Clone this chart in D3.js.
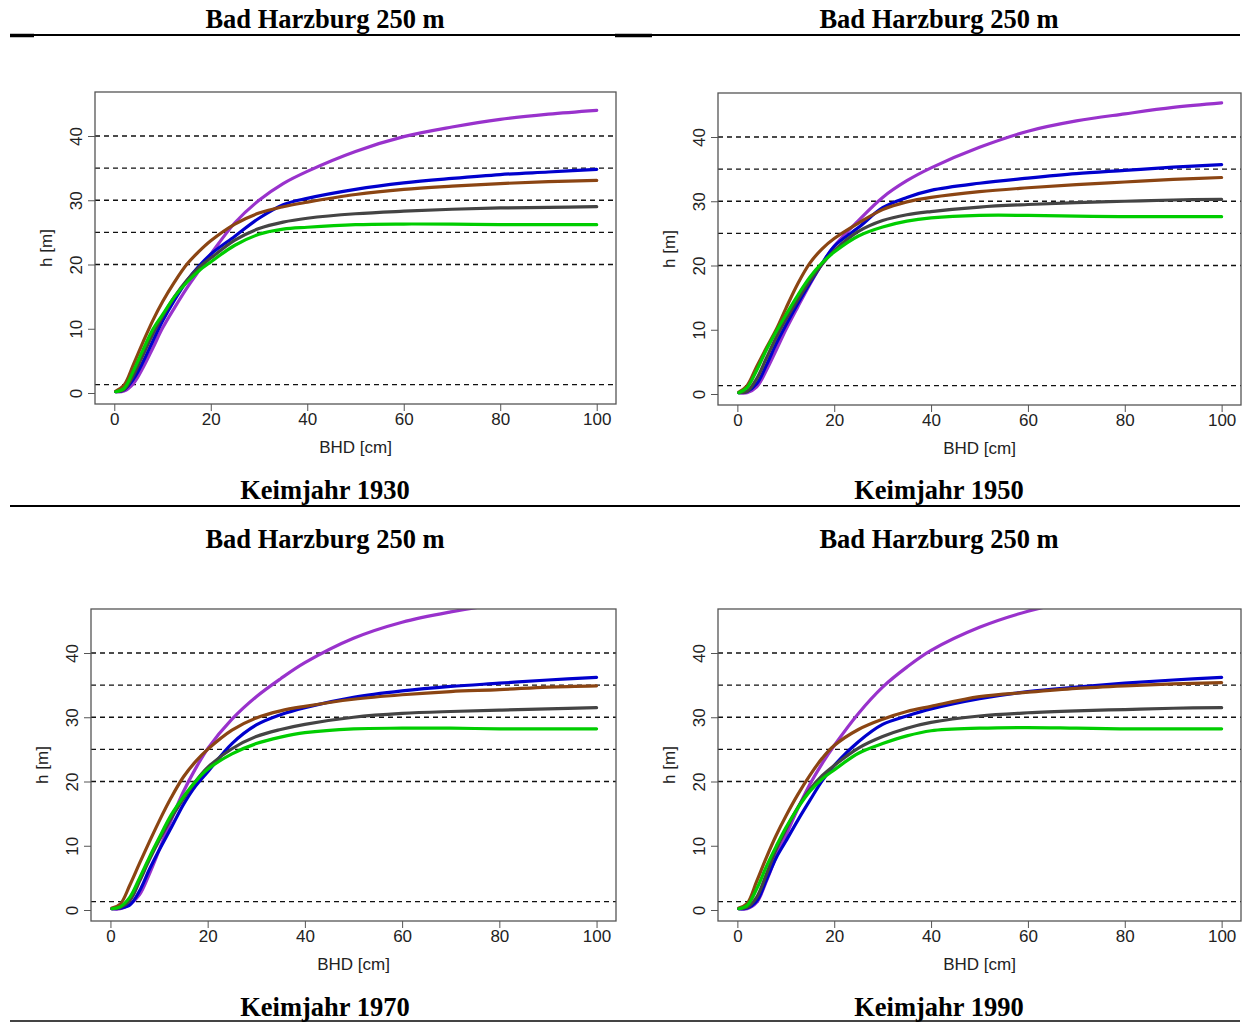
<!DOCTYPE html>
<html><head><meta charset="utf-8">
<script src="https://cdn.jsdelivr.net/npm/d3@7"></script>
<style>body{margin:0;background:#fff}svg{display:block}</style>
</head><body>
<svg id="chart" width="1247" height="1023"></svg>
<script>
// ---- data ----
const bhd = [0.3, 2, 4, 6, 8, 10, 12.5, 15, 17.5, 20, 25, 30, 35, 40, 50, 60, 70, 80, 90, 100];
const xTicks = [0, 20, 40, 60, 80, 100];
const yTicks = [0, 10, 20, 30, 40];
const refLines = [1.3, 20, 25, 30, 35, 40];
const seriesNames = ["purple", "blue", "brown", "gray", "green"];
const seriesColors = ["#9932CC", "#0000CD", "#8B4513", "#444444", "#00CD00"];
const keimjahre = [1930, 1950, 1970, 1990];
const siteTitle = "Bad Harzburg 250 m";

const purple1930 = [0.2, 0.3, 1.5, 4.0, 7.0, 10.1, 13.3, 16.3, 19.0, 21.6, 26.5, 30.0, 32.6, 34.5, 37.6, 39.9, 41.4, 42.6, 43.4, 44.0];
const blue1930   = [0.2, 0.5, 2.2, 4.9, 8.1, 11.2, 14.5, 17.4, 19.7, 21.6, 24.4, 27.2, 29.3, 30.3, 31.7, 32.7, 33.4, 34.0, 34.4, 34.8];
const brown1930  = [0.3, 1.2, 4.5, 8.0, 11.3, 14.2, 17.3, 20.0, 22.0, 23.7, 26.3, 28.0, 29.0, 29.7, 30.9, 31.7, 32.2, 32.6, 32.9, 33.1];
const gray1930   = [0.2, 0.5, 2.8, 6.0, 9.2, 11.9, 15.0, 17.5, 19.5, 21.0, 23.8, 25.6, 26.6, 27.2, 27.9, 28.3, 28.6, 28.8, 28.9, 29.0];
const green1930  = [0.2, 0.7, 3.5, 6.8, 9.9, 12.2, 15.0, 17.2, 19.0, 20.4, 23.0, 24.7, 25.5, 25.8, 26.2, 26.3, 26.3, 26.2, 26.2, 26.2];

const purple1950 = [0.2, 0.2, 1.1, 3.7, 6.8, 10.0, 13.6, 17.1, 20.3, 23.0, 27.0, 30.6, 33.2, 35.2, 38.4, 40.9, 42.5, 43.6, 44.6, 45.3];
const blue1950   = [0.2, 0.4, 1.6, 4.5, 7.8, 10.7, 14.1, 17.3, 20.3, 23.0, 25.9, 29.0, 30.6, 31.7, 32.8, 33.6, 34.3, 34.8, 35.3, 35.7];
const brown1950  = [0.3, 1.3, 4.3, 7.2, 10.0, 13.3, 17.2, 20.4, 22.6, 24.2, 26.6, 28.7, 29.9, 30.6, 31.5, 32.1, 32.6, 33.0, 33.4, 33.7];
const gray1950   = [0.2, 0.4, 2.4, 5.6, 8.8, 11.6, 14.7, 17.6, 20.2, 22.3, 25.3, 27.0, 27.9, 28.4, 29.1, 29.5, 29.8, 30.0, 30.2, 30.3];
const green1950  = [0.2, 1.0, 3.7, 6.9, 9.7, 12.3, 15.4, 18.2, 20.4, 22.1, 24.6, 26.0, 26.9, 27.4, 27.8, 27.8, 27.7, 27.6, 27.6, 27.6];

const purple1970 = [0.2, 0.2, 0.9, 2.4, 5.6, 9.3, 14.0, 18.4, 22.0, 25.1, 29.7, 33.2, 36.0, 38.5, 42.3, 44.8, 46.4, 47.6, 48.5, 49.2];
const blue1970   = [0.2, 0.3, 0.8, 3.0, 6.3, 9.3, 12.8, 16.4, 19.3, 21.5, 25.9, 28.8, 30.4, 31.5, 33.1, 34.1, 34.8, 35.3, 35.8, 36.2];
const brown1970  = [0.3, 0.9, 3.9, 7.3, 10.6, 13.8, 17.5, 20.7, 23.1, 25.0, 28.0, 29.9, 31.0, 31.7, 32.8, 33.5, 34.0, 34.3, 34.7, 34.9];
const gray1970   = [0.2, 0.4, 1.5, 4.5, 7.8, 10.8, 14.3, 17.3, 20.0, 22.2, 25.1, 27.0, 28.1, 28.9, 30.0, 30.6, 30.9, 31.1, 31.3, 31.5];
const green1970  = [0.2, 0.5, 2.0, 5.0, 8.2, 11.2, 14.8, 17.6, 20.0, 21.9, 24.3, 25.9, 26.9, 27.6, 28.2, 28.3, 28.3, 28.2, 28.2, 28.2];

const purple1990 = [0.2, 0.2, 1.2, 4.5, 8.3, 11.6, 15.8, 19.6, 22.8, 25.6, 30.6, 34.7, 37.8, 40.4, 44.0, 46.5, 48.2, 49.5, 50.5, 51.3];
const blue1990   = [0.2, 0.3, 1.4, 4.7, 8.1, 10.7, 14.0, 17.1, 20.1, 22.5, 26.2, 28.9, 30.2, 31.3, 32.9, 34.0, 34.7, 35.3, 35.8, 36.2];
const brown1990  = [0.3, 1.0, 4.5, 8.2, 11.6, 14.6, 18.0, 21.0, 23.6, 25.6, 28.1, 29.7, 30.9, 31.7, 33.2, 33.9, 34.5, 34.9, 35.2, 35.4];
const gray1990   = [0.2, 0.4, 2.0, 5.6, 9.4, 12.5, 16.0, 18.8, 20.9, 22.5, 25.2, 27.0, 28.3, 29.2, 30.2, 30.7, 31.0, 31.2, 31.4, 31.5];
const green1990  = [0.2, 0.7, 3.3, 6.8, 9.9, 12.8, 15.9, 18.5, 20.4, 21.8, 24.4, 25.9, 27.1, 27.9, 28.3, 28.4, 28.3, 28.2, 28.2, 28.2];

const panelSeries = [
  [purple1930, blue1930, brown1930, gray1930, green1930],
  [purple1950, blue1950, brown1950, gray1950, green1950],
  [purple1970, blue1970, brown1970, gray1970, green1970],
  [purple1990, blue1990, brown1990, gray1990, green1990]
];

// ---- layout ----
const boxes = [
  {l: 95,  t: 92,  w: 521, h: 312, cx: 325, titleY: 28,  capY: 499},
  {l: 718, t: 93,  w: 523, h: 312, cx: 939, titleY: 28,  capY: 499},
  {l: 91,  t: 609, w: 525, h: 312, cx: 325, titleY: 548, capY: 1016},
  {l: 718, t: 609, w: 523, h: 312, cx: 939, titleY: 548, capY: 1016}
];
const sansFont = "'Liberation Sans', Arial, Helvetica, sans-serif";
const serifFont = "'Liberation Serif', 'Times New Roman', serif";

const svg = d3.select("#chart");
svg.append("rect").attr("width", 1247).attr("height", 1023).attr("fill", "#fff");

// page rules
[[35, "#000", 2], [506, "#000", 2], [1021, "#444", 2]].forEach(([y, c, w]) => {
  svg.append("line").attr("x1", 10).attr("x2", 1240).attr("y1", y).attr("y2", y)
    .attr("stroke", c).attr("stroke-width", w);
});
[[10, 34], [615, 652]].forEach(([a, b]) => {
  svg.append("line").attr("x1", a).attr("x2", b).attr("y1", 35.5).attr("y2", 35.5)
    .attr("stroke", "#000").attr("stroke-width", 3.5);
});

boxes.forEach((b, i) => {
  const g = svg.append("g");
  const x = d3.scaleLinear().domain([-4, 104]).range([b.l, b.l + b.w]);
  const y = d3.scaleLinear().domain([-1.71, 46.85]).range([b.t + b.h, b.t]);

  // headings
  svg.append("text").attr("x", b.cx).attr("y", b.titleY).attr("text-anchor", "middle")
    .attr("font-family", serifFont).attr("font-weight", "bold").attr("font-size", 26.5)
    .attr("fill", "#000").text(siteTitle);
  svg.append("text").attr("x", b.cx).attr("y", b.capY).attr("text-anchor", "middle")
    .attr("font-family", serifFont).attr("font-weight", "bold").attr("font-size", 26.5)
    .attr("fill", "#000").text("Keimjahr " + keimjahre[i]);

  const clipId = "clip" + i;
  svg.append("clipPath").attr("id", clipId).append("rect")
    .attr("x", b.l).attr("y", b.t).attr("width", b.w).attr("height", b.h);

  // dashed reference lines
  g.selectAll("line.ref").data(refLines).join("line").attr("class", "ref")
    .attr("x1", b.l).attr("x2", b.l + b.w)
    .attr("y1", d => y(d)).attr("y2", d => y(d))
    .attr("stroke", "#111").attr("stroke-width", 1.4).attr("stroke-dasharray", "5,4");

  // curves
  const line = d3.line().x(d => x(d[0])).y(d => y(d[1])).curve(d3.curveCatmullRom.alpha(0.5));
  const cg = g.append("g").attr("clip-path", `url(#${clipId})`);
  panelSeries[i].forEach((vals, k) => {
    cg.append("path").datum(bhd.map((d, j) => [d, vals[j]]))
      .attr("d", line).attr("fill", "none")
      .attr("stroke", seriesColors[k]).attr("stroke-width", 3.2)
      .attr("stroke-linejoin", "round").attr("stroke-linecap", "round");
  });

  // box
  g.append("rect").attr("x", b.l).attr("y", b.t).attr("width", b.w).attr("height", b.h)
    .attr("fill", "none").attr("stroke", "#555").attr("stroke-width", 1.3);

  // x axis
  const xa = g.append("g").attr("transform", `translate(0,${b.t + b.h})`)
    .call(d3.axisBottom(x).tickValues(xTicks).tickSize(7).tickPadding(2).tickFormat(d3.format("d")));
  xa.select(".domain").remove();
  xa.selectAll("line").attr("stroke", "#555");
  xa.selectAll("text").attr("font-family", sansFont).attr("font-size", 17).attr("fill", "#222");

  // y axis
  const ya = g.append("g").attr("transform", `translate(${b.l},0)`)
    .call(d3.axisLeft(y).tickValues(yTicks).tickSize(7).tickFormat(d3.format("d")));
  ya.select(".domain").remove();
  ya.selectAll("line").attr("stroke", "#555");
  ya.selectAll("text")
    .attr("x", null).attr("dy", null)
    .attr("text-anchor", "middle")
    .attr("transform", "translate(-19,0) rotate(-90)")
    .attr("dy", "0.35em")
    .attr("font-family", sansFont).attr("font-size", 17).attr("fill", "#222");

  // axis titles
  g.append("text").attr("x", b.l + b.w / 2).attr("y", b.t + b.h + 49)
    .attr("text-anchor", "middle").attr("font-family", sansFont).attr("font-size", 17)
    .attr("fill", "#222").text("BHD [cm]");
  g.append("text").attr("transform", `translate(${b.l - 49},${b.t + b.h / 2}) rotate(-90)`)
    .attr("dy", "0.35em").attr("text-anchor", "middle").attr("font-family", sansFont)
    .attr("font-size", 17).attr("fill", "#222").text("h [m]");
});
</script>
</body></html>
